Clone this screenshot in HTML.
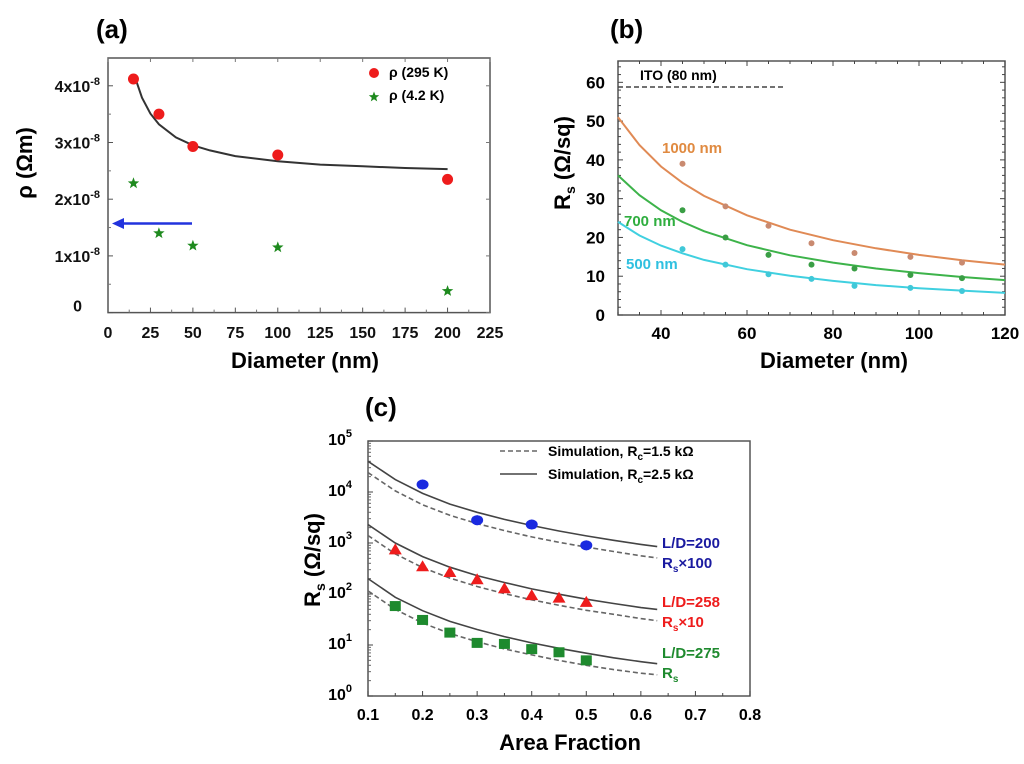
<!DOCTYPE html>
<html><head><meta charset="utf-8"><style>
body{margin:0;background:#fff;}
svg{display:block;font-family:"Liberation Sans",Arial,sans-serif;font-weight:bold;}
</style></head><body>
<svg id="fig" width="1024" height="764" viewBox="0 0 1024 764">
<text x="96" y="38" font-size="26">(a)</text>
<text x="610" y="38" font-size="26">(b)</text>
<text x="365" y="416" font-size="26">(c)</text>
</svg>
<script>
const NS='http://www.w3.org/2000/svg';
const svg=document.getElementById('fig');
function mk(tag,attrs,parent,txt){const e=document.createElementNS(NS,tag);for(const k in attrs)e.setAttribute(k,attrs[k]);if(txt!==undefined)e.textContent=txt;(parent||svg).appendChild(e);return e;}

// ---------- Panel A data ----------
const aDiam=[15,30,50,100,200];
const aRho295=[4.12,3.5,2.93,2.78,2.35];
const aRho42=[2.28,1.4,1.18,1.15,0.38];
const aFitD=[16,20,25,30,40,50,60,75,100,125,150,175,200];
const aFitRho=[4.14,3.79,3.51,3.32,3.09,2.95,2.86,2.76,2.67,2.61,2.58,2.55,2.53];
const aXTicks=[0,25,50,75,100,125,150,175,200,225];
const aYTicks=[0,1,2,3,4];

// ---------- Panel B data ----------
const bDiam=[45,55,65,75,85,98,110];
const b1000=[39,28,23,18.5,16,15,13.5];
const b700=[27,20,15.5,13,12,10.3,9.5];
const b500=[17,13,10.5,9.3,7.5,7,6.2];
const bFitD=[30,35,40,45,50,60,70,80,90,100,110,120];
const bFit1000=[51,43.8,38.3,34.1,30.7,25.7,22.0,19.3,17.2,15.5,14.1,13];
const bFit700=[36,30.9,27,24,21.6,18,15.4,13.5,12,10.8,9.8,9];
const bFit500=[24,20.5,17.9,15.9,14.2,11.8,10.1,8.8,7.7,6.9,6.3,5.7];
const bXTicks=[40,60,80,100,120];
const bYTicks=[0,10,20,30,40,50,60];
const bITO=58.8;

// ---------- Panel C data ----------
const cX200=[0.2,0.3,0.4,0.5];
const cY200=[14000,2800,2300,900];
const cX258=[0.15,0.2,0.25,0.3,0.35,0.4,0.45,0.5];
const cY258=[750,350,270,195,130,95,85,70];
const cX275=[0.15,0.2,0.25,0.3,0.35,0.4,0.45,0.5];
const cY275=[58,31,17.5,11,10.5,8.3,7.2,5];
const cSimX=[0.1,0.15,0.2,0.25,0.3,0.35,0.4,0.45,0.5,0.55,0.6,0.63];
const cSolid200=[40000,17500,9400,5800,4000,2900,2200,1720,1380,1130,940,850];
const cDash200=[24000,10500,5600,3500,2400,1750,1320,1030,830,680,560,510];
const cSolid258=[2300,1000,540,335,230,168,126,99,79,65,54,50];
const cDash258=[1400,610,330,205,140,102,77,60,48,40,33,30];
const cSolid275=[200,86,47,29,20.1,14.6,11,8.6,6.9,5.6,4.7,4.3];
const cDash275=[115,50,27,16.8,11.6,8.4,6.4,5,4,3.3,2.8,2.6];
const cXTicks=[0.1,0.2,0.3,0.4,0.5,0.6,0.7,0.8];
const cYExp=[0,1,2,3,4,5];

function frame(g,l,t,r,b,name){mk('rect',{x:l,y:t,width:r-l,height:b-t,fill:'none',stroke:'#555','stroke-width':1.5,},g);}
function path(pts){return pts.map((p,i)=>(i?'L':'M')+p[0].toFixed(1)+' '+p[1].toFixed(1)).join(' ');}
function star(cx,cy,r){let s=[];for(let i=0;i<10;i++){const a=-Math.PI/2+i*Math.PI/5;const rr=i%2?r*0.42:r;s.push([cx+rr*Math.cos(a),cy+rr*Math.sin(a)]);}return path(s)+'Z';}

// ===== Panel A =====
(function(){
const g=mk('g',{});
const L=108,R=490,T=58,B=312.6;
const x=v=>L+(v-0)/(225)*(R-L);
const y=v=>B-v/4.49*(B-T);
frame(g,L,T,R,B,'panel-a-plot-frame');
aXTicks.forEach(v=>{
 mk('line',{x1:x(v),x2:x(v),y1:B,y2:B-5,stroke:'#555'},g);
 if(v<225)mk('line',{x1:x(v+12.5),x2:x(v+12.5),y1:B,y2:B-3,stroke:'#777'},g);
 mk('line',{x1:x(v),x2:x(v),y1:T,y2:T+4,stroke:'#777'},g);
 const t=mk('text',{x:x(v),y:338,'font-size':16,'text-anchor':'middle',fill:'#111'},g,v);
 
 
});
aYTicks.forEach(v=>{
 mk('line',{x1:L,x2:L+5,y1:y(v),y2:y(v),stroke:'#555'},g);
 if(v<4)mk('line',{x1:L,x2:L+3,y1:y(v+0.5),y2:y(v+0.5),stroke:'#777'},g);
 mk('line',{x1:R,x2:R-4,y1:y(v),y2:y(v),stroke:'#777'},g);
 const t=mk('text',{x:v===0?82:100,y:y(v)+(v===0?-1:6),'font-size':16,'text-anchor':'end',fill:'#111'},g);
 
 
 if(v===0){t.textContent='0';}else{t.textContent=v+'x10';mk('tspan',{dy:-7,'font-size':11},t,'-8');}
});
const fit=mk('path',{d:path(aFitD.map((d,i)=>[x(d),y(aFitRho[i])])),fill:'none',stroke:'#333','stroke-width':2},g);


aDiam.forEach((d,i)=>{
 const c=mk('circle',{cx:x(d),cy:y(aRho295[i]),r:5.5,fill:'#ee1c1c'},g);
 
 
 const s=mk('path',{d:star(x(d),y(aRho42[i]),6),fill:'#1e8a1e'},g);
 
 
});
const ar=mk('g',{},g);
mk('line',{x1:192,x2:122,y1:223.5,y2:223.5,stroke:'#2233dd','stroke-width':2.5},ar);
mk('path',{d:'M112 223.5 L124 218 L124 229 Z',fill:'#2233dd'},ar);
const lg=mk('g',{},g);
mk('circle',{cx:374,cy:73,r:5,fill:'#ee1c1c'},lg);
mk('text',{x:389,y:77,'font-size':14},lg,'ρ (295 K)');
mk('path',{d:star(374,97,5.5),fill:'#1e8a1e'},lg);
mk('text',{x:389,y:100,'font-size':14},lg,'ρ (4.2 K)');
mk('text',{x:305,y:368,'font-size':22,'text-anchor':'middle',},g,'Diameter (nm)');
mk('text',{x:0,y:0,'font-size':22,'text-anchor':'middle',transform:'translate(32,163) rotate(-90)',},g,'ρ (Ωm)');
})();

// ===== Panel B =====
(function(){
const g=mk('g',{});
const L=618,R=1005,T=61,B=315;
const x=v=>L+(v-30)/90*(R-L);
const y=v=>B-v/65.5*(B-T);
frame(g,L,T,R,B,'panel-b-plot-frame');
for(let v=30;v<=120;v+=5){const big=v%20===0;
 mk('line',{x1:x(v),x2:x(v),y1:B,y2:B-(big?5:3),stroke:'#444'},g);
 mk('line',{x1:x(v),x2:x(v),y1:T,y2:T+(big?5:3),stroke:'#444'},g);}
for(let v=0;v<=65;v+=2){const big=v%10===0;
 mk('line',{x1:L,x2:L+(big?5:3),y1:y(v),y2:y(v),stroke:'#444'},g);
 mk('line',{x1:R,x2:R-(big?5:3),y1:y(v),y2:y(v),stroke:'#444'},g);}
bXTicks.forEach(v=>{const t=mk('text',{x:x(v),y:339,'font-size':17,'text-anchor':'middle'},g,v);
 
 });
bYTicks.forEach(v=>{const t=mk('text',{x:605,y:y(v)+6,'font-size':17,'text-anchor':'end'},g,v);
 
 });
const ito=mk('line',{x1:x(30),x2:x(68.5),y1:y(bITO),y2:y(bITO),stroke:'#444','stroke-width':1.5,'stroke-dasharray':'5 3'},g);


mk('text',{x:640,y:80,'font-size':14,},g,'ITO (80 nm)');
const series=[[bFit1000,b1000,'#e08a55','#c98a70','1000'],[bFit700,b700,'#3db34a','#3a9e45','700'],[bFit500,b500,'#40d0e0','#40c8d8','500']];
series.forEach(s=>{
 const p=mk('path',{d:path(bFitD.map((d,i)=>[x(d),y(s[0][i])])),fill:'none',stroke:s[2],'stroke-width':2},g);
 
 
 bDiam.forEach((d,i)=>{const c=mk('circle',{cx:x(d),cy:y(s[1][i]),r:3,fill:s[3]},g);
  
  });
});
mk('text',{x:662,y:153,'font-size':15,fill:'#e08a40',},g,'1000 nm');
mk('text',{x:624,y:226,'font-size':15,fill:'#2fae3f',},g,'700 nm');
mk('text',{x:626,y:269,'font-size':15,fill:'#2fc0e0',},g,'500 nm');
mk('text',{x:834,y:368,'font-size':22,'text-anchor':'middle',},g,'Diameter (nm)');
const yt=mk('text',{x:0,y:0,'font-size':22,'text-anchor':'middle',transform:'translate(570,163) rotate(-90)',},g,'R');
mk('tspan',{'font-size':14,dy:5},yt,'s');mk('tspan',{dy:-5},yt,' (Ω/sq)');
})();

// ===== Panel C =====
(function(){
const g=mk('g',{});
const L=368,R=750,T=441,B=696;
const x=v=>L+(v-0.1)/0.7*(R-L);
const y=v=>B-Math.log10(v)/5*(B-T);
frame(g,L,T,R,B,'panel-c-plot-frame');
cXTicks.forEach(v=>{
 mk('line',{x1:x(v),x2:x(v),y1:B,y2:B-5,stroke:'#444'},g);
 if(v<0.75)mk('line',{x1:x(v+0.05),x2:x(v+0.05),y1:B,y2:B-3,stroke:'#444'},g);
 const t=mk('text',{x:x(v),y:720,'font-size':16,'text-anchor':'middle'},g,v.toFixed(1));
 
 
});
cYExp.forEach(e=>{
 mk('line',{x1:L,x2:L+5,y1:y(Math.pow(10,e)),y2:y(Math.pow(10,e)),stroke:'#444'},g);
 if(e<5)for(let k=2;k<10;k++)mk('line',{x1:L,x2:L+3,y1:y(k*Math.pow(10,e)),y2:y(k*Math.pow(10,e)),stroke:'#666'},g);
 const t=mk('text',{x:352,y:y(Math.pow(10,e))+4,'font-size':16,'text-anchor':'end'},g,'10');
 
 
 mk('tspan',{dy:-8,'font-size':11},t,e);
});
const curves=[[cSolid200,0],[cDash200,1],[cSolid258,0],[cDash258,1],[cSolid275,0],[cDash275,1]];
curves.forEach(c=>{
 const p=mk('path',{d:path(cSimX.map((v,i)=>[x(v),y(c[0][i])])),fill:'none',stroke:c[1]?'#666':'#444','stroke-width':1.6,'stroke-dasharray':c[1]?'5 3':'none'},g);
 
 
});
cX200.forEach((v,i)=>{
 const e=mk('line',{x1:x(v),x2:x(v),y1:y(cY200[i]*1.25),y2:y(cY200[i]*0.8),stroke:'#2233dd','stroke-width':1.2},g);
 
 
 const c=mk('ellipse',{cx:x(v),cy:y(cY200[i]),rx:6,ry:5,fill:'#1a2ae0'},g);
 
 
});
cX258.forEach((v,i)=>{const X=x(v),Y=y(cY258[i]);
 const t=mk('path',{d:`M${X} ${Y-6} L${X+6.5} ${Y+5} L${X-6.5} ${Y+5} Z`,fill:'#ee1c1c'},g);
 
 });
cX275.forEach((v,i)=>{const X=x(v),Y=y(cY275[i]);
 const r=mk('rect',{x:X-5.5,y:Y-5,width:11,height:10,fill:'#1e8a2e'},g);
 
 });
const lg=mk('g',{},g);
mk('line',{x1:500,x2:537,y1:451,y2:451,stroke:'#666','stroke-width':1.6,'stroke-dasharray':'5 3'},lg);
const t1=mk('text',{x:548,y:456,'font-size':14},lg,'Simulation, R');mk('tspan',{'font-size':10,dy:4},t1,'c');mk('tspan',{dy:-4},t1,'=1.5 kΩ');
mk('line',{x1:500,x2:537,y1:474,y2:474,stroke:'#444','stroke-width':1.6},lg);
const t2=mk('text',{x:548,y:479,'font-size':14},lg,'Simulation, R');mk('tspan',{'font-size':10,dy:4},t2,'c');mk('tspan',{dy:-4},t2,'=2.5 kΩ');
function lab(txt,sub,rest,yy,col,name){const t=mk('text',{x:662,y:yy,'font-size':15,fill:col,},g,txt);
 if(sub){mk('tspan',{'font-size':10,dy:4},t,sub);mk('tspan',{dy:-4},t,rest);}}
lab('L/D=200','','',548,'#1a1aa0','c-label-ld200');
lab('R','s','×100',568,'#1a1aa0','c-label-rs100');
lab('L/D=258','','',607,'#ee1c1c','c-label-ld258');
lab('R','s','×10',627,'#ee1c1c','c-label-rs10');
lab('L/D=275','','',658,'#1e8a2e','c-label-ld275');
lab('R','s','',678,'#1e8a2e','c-label-rs');
mk('text',{x:570,y:750,'font-size':22,'text-anchor':'middle',},g,'Area Fraction');
const yt=mk('text',{x:0,y:0,'font-size':22,'text-anchor':'middle',transform:'translate(320,560) rotate(-90)',},g,'R');
mk('tspan',{'font-size':14,dy:5},yt,'s');mk('tspan',{dy:-5},yt,' (Ω/sq)');
})();
</script>
</body></html>
